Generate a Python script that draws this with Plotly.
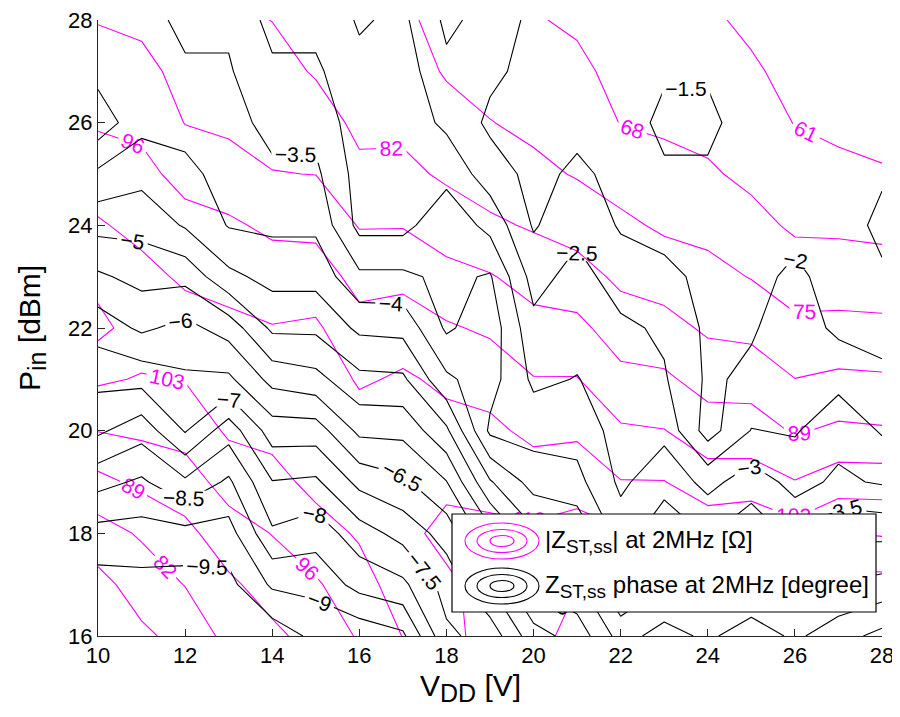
import numpy as np
import plotly.graph_objects as go

# ---------------- data ----------------
vdd = list(range(10, 29))          # V_DD [V]
pin = list(range(16, 29))          # P_in [dBm], rows 16..28

# Z_ST,ss phase at 2 MHz [degree], one list per V_DD column, P_in = 16..28
p10 = [-10.1, -9.7, -9.18, -8.34, -7.41, -6.86, -6.29, -5.58, -4.84, -4.10, -3.19, -3.67, -3.70]
p11 = [-10.1, -9.65, -9.2, -8.58, -7.8, -6.83, -5.91, -5.34, -4.84, -4.34, -3.85, -3.72, -3.75]
p12 = [-10.1, -9.7, -9.16, -8.09, -6.96, -6.58, -6.15, -5.35, -4.45, -4.12, -3.84, -3.59, -3.34]
p13 = [-10.0, -9.65, -9.2, -8.59, -7.78, -6.6, -5.79, -4.62, -3.97, -3.83, -3.69, -3.55, -3.41]
p14 = [-9.81, -8.92, -8.08, -7.52, -6.76, -5.84, -4.9, -4.34, -3.9, -3.6, -3.34, -3.09, -2.84]
p15 = [-9.37, -8.85, -8.29, -7.59, -6.75, -5.66, -4.9, -4.34, -3.9, -3.6, -3.34, -3.09, -2.84]
p16 = [-9.35, -8.33, -7.73, -6.86, -5.88, -5.13, -4.4, -3.6, -2.85, -2.8, -2.72, -2.62, -2.45]
p17 = [-9.1, -8.11, -7.32, -6.6, -5.86, -5.09, -4.35, -3.6, -2.85, -2.85, -2.78, -2.75, -2.6]
p18 = [-7.6, -7.3, -6.8, -6.02, -5.1, -4.1, -3.42, -3.38, -3.35, -2.85, -2.4, -2.11, -1.9]
p19 = [-7.3, -6.48, -5.65, -4.55, -3.4, -3.7, -3.8, -3.55, -2.85, -2.25, -1.9, -2.1, -2.17]
p20 = [-6.2, -5.4, -4.6, -3.8, -3.3, -2.9, -2.65, -2.3, -1.95, -1.85, -1.8, -1.85, -1.93]
p21 = [-5.8, -5.1, -4.4, -3.65, -3.3, -3.02, -2.8, -2.7, -2.35, -2.1, -1.85, -1.75, -1.8]
p22 = [-4.8, -4.02, -3.25, -2.9, -2.8, -2.75, -2.6, -2.25, -1.95, -1.85, -1.75, -1.7, -1.75]
p23 = [-5.2, -4.47, -3.82, -3.33, -2.86, -2.55, -2.42, -2.15, -1.8, -1.57, -1.38, -1.56, -1.65]
p24 = [-4.9, -4.1, -3.45, -2.85, -1.78, -1.92, -1.9, -1.85, -1.75, -1.57, -1.38, -1.56, -1.65]
p25 = [-5.3, -4.48, -3.85, -3.25, -2.52, -2.1, -1.95, -1.85, -1.8, -1.75, -1.75, -1.65, -1.6]
p26 = [-4.9, -4.1, -3.35, -2.85, -2.45, -2.35, -2.25, -2.1, -1.85, -1.75, -1.7, -1.65, -1.6]
p27 = [-5.3, -4.52, -3.9, -3.08, -2.85, -2.35, -1.9, -1.8, -1.7, -1.7, -1.65, -1.6, -1.6]
p28 = [-5.65, -4.67, -3.87, -2.95, -2.45, -2.1, -1.85, -1.56, -1.4, -1.55, -1.6, -1.6, -1.6]

# |Z_ST,ss| at 2 MHz [Ohm], one list per V_DD column, P_in = 16..28
m10 = [69, 72.8, 79.1, 87.1, 96.2, 104, 112, 107.8, 103.7, 99.5, 95.3, 92, 88.7]
m11 = [73.7, 78.1, 82.8, 90.6, 97.3, 102.5, 106.5, 105, 101.1, 97.8, 94.5, 91, 87.6]
m12 = [77.3, 82.2, 87.1, 92.9, 98.4, 103.3, 106, 101.9, 98.2, 93.9, 88.8, 86.8, 85]
m13 = [84, 87.7, 92.9, 98.7, 104, 106.5, 104.5, 100.8, 97, 92.2, 87.5, 85.5, 83.5]
m14 = [87.5, 92, 96.2, 100.7, 105, 108, 103.3, 99.2, 94.7, 89.2, 86.7, 84.4, 81.9]
m15 = [91.5, 95.2, 100.1, 105, 108, 108.5, 104, 99.2, 94.3, 88.9, 85.1, 81.4, 79]
m16 = [96.7, 100.1, 103.8, 108, 107, 102, 98.2, 93.8, 88.6, 83.4, 80.5, 78.5, 76.5]
m17 = [103.2, 106.5, 108.5, 109.5, 107, 104, 99.3, 94.3, 88.65, 83.65, 80.4, 78.1, 75.7]
m18 = [108, 109, 111.5, 108.8, 105.3, 101.6, 96.8, 91.1, 85.7, 80.95, 77.45, 74.4, 73.8]
m19 = [112.5, 112, 111, 108.5, 104.6, 100.1, 94.9, 89.5, 83.1, 78.9, 75.2, 72.5, 70.5]
m20 = [115.5, 113.5, 111, 106.9, 101.2, 96.3, 91.3, 86.25, 81.3, 76.6, 73.5, 71, 68.5]
m21 = [118.5, 116.9, 112.4, 107.4, 101.8, 96.3, 90.8, 84.8, 79.2, 74.5, 72, 69.5, 67]
m22 = [121, 118.2, 110.8, 103.3, 96.9, 90.9, 85.5, 80.6, 76.4, 72.1, 67.8, 66, 64.5]
m23 = [121.5, 119.8, 111.75, 103.2, 96.2, 90.2, 84.4, 78.9, 73.95, 70.1, 67, 65, 63]
m24 = [121.5, 118, 107.7, 99, 92.4, 86.3, 80.95, 77.1, 73, 68.8, 66.2, 64, 61.8]
m25 = [121, 119.2, 109.4, 99.2, 92.2, 86.1, 80.1, 74.7, 70, 66.6, 64.1, 61.7, 60]
m26 = [121, 118.5, 105.8, 96.3, 88.3, 82.1, 76.6, 71.4, 67, 64, 60.8, 59.5, 58]
m27 = [121, 119.7, 110.2, 99.6, 90.3, 83.3, 76.9, 71.4, 66.8, 63, 59.2, 57.5, 56]
m28 = [121, 119.5, 109.4, 99.6, 89.7, 82.9, 76.6, 71.05, 66.2, 61.8, 58, 56.5, 55.5]

x_ticks = [10, 12, 14, 16, 18, 20, 22, 24, 26, 28]
y_ticks = [16, 18, 20, 22, 24, 26, 28]

# ---------------- figure ----------------
phase_cols = [p10, p11, p12, p13, p14, p15, p16, p17, p18, p19,
              p20, p21, p22, p23, p24, p25, p26, p27, p28]
mag_cols = [m10, m11, m12, m13, m14, m15, m16, m17, m18, m19,
            m20, m21, m22, m23, m24, m25, m26, m27, m28]
z_phase = np.array(phase_cols).T
z_mag = np.array(mag_cols).T

FONT = "Liberation Sans, Arial, Helvetica, sans-serif"
MAG = "#FF00FF"

fig = go.Figure()
fig.add_trace(go.Contour(
    x=vdd, y=pin, z=z_mag,
    contours=dict(start=61, end=117, size=7, coloring="lines", showlabels=True,
                  labelfont=dict(family=FONT, size=21, color=MAG)),
    colorscale=[[0, MAG], [1, MAG]], showscale=False,
    line=dict(width=1.1, smoothing=0), hoverinfo="skip", showlegend=False))
fig.add_trace(go.Contour(
    x=vdd, y=pin, z=z_phase,
    contours=dict(start=-9.5, end=-1.5, size=0.5, coloring="lines", showlabels=True,
                  labelfont=dict(family=FONT, size=21, color="black")),
    colorscale=[[0, "black"], [1, "black"]], showscale=False,
    line=dict(width=1.1, smoothing=0), hoverinfo="skip", showlegend=False))

# The page body adds an 8 px offset, so the figure is sized to fit the 900x717 window.
OFF = 8
W, H = 900 - OFF, 717 - OFF
L, R, T, B = 98, 882, 20, 636          # plot area in window pixels
def px(v):
    return (v - L) / (R - L)
def py(v):
    return (B - v) / (B - T)

shapes = [dict(type="rect", xref="paper", yref="paper", x0=px(452), x1=px(876),
               y0=py(612), y1=py(514), line=dict(color="black", width=1.2),
               fillcolor="white", layer="above")]
for cy, col in [(541, MAG), (586, "black")]:
    for a, b in [(37, 18), (25, 11.5), (12, 5.5)]:
        shapes.append(dict(type="circle", xref="paper", yref="paper",
                           x0=px(502 - a), x1=px(502 + a), y0=py(cy + b), y1=py(cy - b),
                           line=dict(color=col, width=1.1), layer="above"))

sub = "<sub><span style='font-size:19px'>%s</span></sub>"
annotations = [
    dict(xref="paper", yref="paper", x=px(543), y=py(541), xanchor="left", yanchor="middle",
         text="|Z" + sub % "ST,ss" + "| at 2MHz [Ω]", showarrow=False,
         font=dict(family=FONT, size=24, color="black")),
    dict(xref="paper", yref="paper", x=px(543), y=py(586), xanchor="left", yanchor="middle",
         text="Z" + sub % "ST,ss" + " phase at 2MHz [degree]", showarrow=False,
         font=dict(family=FONT, size=24, color="black")),
    dict(xref="paper", yref="paper", x=px(470), y=py(688), xanchor="center", yanchor="middle",
         text="V" + "<sub><span style='font-size:25px'>DD</span></sub>" + " [V]", showarrow=False,
         font=dict(family=FONT, size=30, color="black")),
    dict(xref="paper", yref="paper", x=px(32), y=0.5, xanchor="center", yanchor="middle",
         text="P" + "<sub><span style='font-size:25px'>in</span></sub>" + " [dBm]", showarrow=False,
         textangle=-90, font=dict(family=FONT, size=30, color="black")),
]

axis_common = dict(showgrid=False, zeroline=False, showline=True, linecolor="#262626",
                   linewidth=1, ticks="inside", ticklen=7, tickwidth=1, tickcolor="#262626",
                   tickfont=dict(family=FONT, size=22, color="black"), mirror=False,
                   automargin=False, ticklabeloverflow="allow")
fig.update_layout(
    width=W, height=H,
    margin=dict(l=L - OFF, r=(W + OFF) - R, t=T - OFF, b=(H + OFF) - B, autoexpand=False),
    paper_bgcolor="white", plot_bgcolor="white",
    xaxis=dict(range=[10, 28], tickvals=x_ticks, **axis_common),
    yaxis=dict(range=[16, 28], tickvals=y_ticks, **axis_common),
    shapes=shapes, annotations=annotations, showlegend=False,
)
fig.write_html("out.html")
